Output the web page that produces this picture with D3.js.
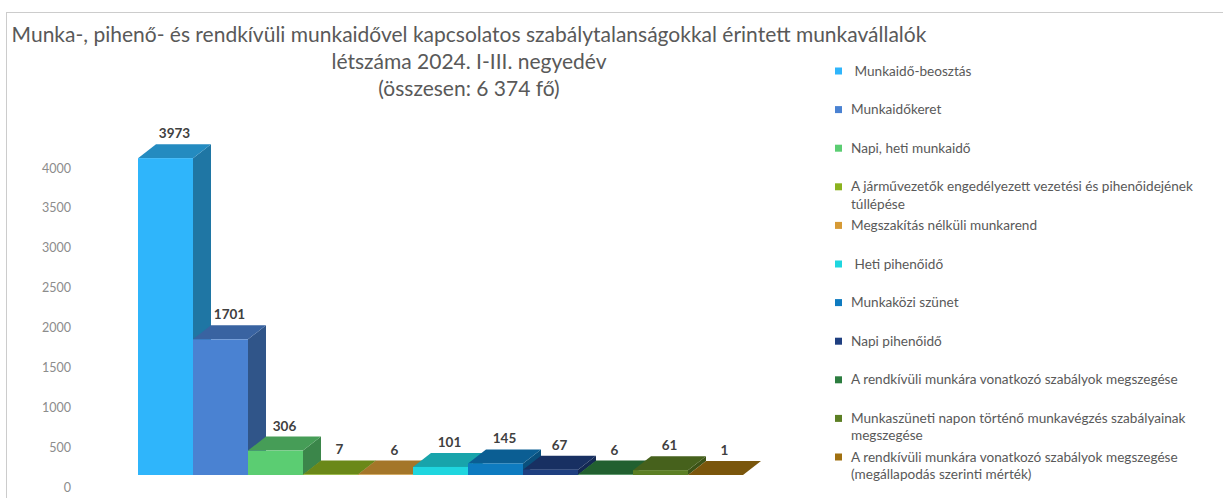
<!DOCTYPE html>
<html>
<head lang="hu">
    <meta charset="utf-8">
    <title>Munkaidő szabálytalanságok 2024</title>
    <style type="text/css">
        body {
            margin: 0;
            background-color: #fff;
        }

        svg text {
            font-family: Lato, "Noto Sans", sans-serif;
        }

        .title {
            font-size: 21px;
            fill: #595959;
        }

        .axis text {
            font-size: 12.5px;
            fill: #8c8c8c;
        }

        .value {
            font-size: 13.5px;
            font-weight: bold;
            fill: #404040;
        }

        .legend text {
            font-size: 13.6px;
            fill: #595959;
            white-space: pre;
        }
    </style>
</head>
<body>

<script src="https://d3js.org/d3.v7.min.js"></script>
<script type="text/javascript">
    //kategóriák (a jelmagyarázat szövegei)
    var categories = [
        " Munkaidő-beosztás",
        "Munkaidőkeret",
        "Napi, heti munkaidő",
        "A járművezetők engedélyezett vezetési és pihenőidejének túllépése",
        "Megszakítás nélküli munkarend",
        " Heti pihenőidő",
        "Munkaközi szünet",
        "Napi pihenőidő",
        "A rendkívüli munkára vonatkozó szabályok megszegése",
        "Munkaszüneti napon történő munkavégzés szabályainak megszegése",
        "A rendkívüli munkára vonatkozó szabályok megszegése (megállapodás szerinti mérték)"
    ];

    //létszám
    var values = [3973, 1701, 306, 7, 6, 101, 145, 67, 6, 61, 1];

    //oszlopszínek
    var colors = ["#2fb5fb", "#4a82d2", "#5bcd72", "#8bb21f", "#d69a35", "#1fd6df",
        "#0e7bc0", "#1f3f80", "#2c7d3f", "#5c7f24", "#a07010"];

    var yTicks = [0, 500, 1000, 1500, 2000, 2500, 3000, 3500, 4000];

    var titleLines = [
        "Munka-, pihenő- és rendkívüli munkaidővel kapcsolatos szabálytalanságokkal érintett munkavállalók",
        "létszáma 2024. I-III. negyedév",
        "(összesen: 6 374 fő)"
    ];

    var width = 1223, height = 498;

    var svg = d3.select("body")
        .append("svg")
        .attr("width", width)
        .attr("height", height);

    //keret
    svg.append("rect")
        .attr("x", 6.5)
        .attr("y", 12.5)
        .attr("width", width + 20)
        .attr("height", height + 20)
        .attr("fill", "#fff")
        .attr("stroke", "#cccccc")
        .attr("stroke-width", 1);

    //cím
    svg.selectAll("text.title")
        .data(titleLines)
        .enter()
        .append("text")
        .attr("class", "title")
        .attr("x", 469)
        .attr("y", function (d, i) {
            return 42 + i * 27;
        })
        .attr("text-anchor", "middle")
        .text(function (d) {
            return d;
        });

    //skálák
    var y = d3.scaleLinear().domain([0, 4000]).range([487, 168]);
    var x = d3.scaleBand().domain(d3.range(values.length)).range([138, 743]).padding(0);

    //y tengely
    var axis = svg.append("g")
        .attr("class", "axis")
        .attr("transform", "translate(71,0)")
        .call(d3.axisLeft(y).tickValues(yTicks).tickSize(0).tickPadding(0).tickFormat(d3.format("d")));
    axis.select(".domain").remove();
    axis.selectAll("text").attr("fill", null);

    //3D oszlopok
    var shift = -12;   //az oszlop elülső lapja feljebb van, mint a tengelyfeliratok
    var dx = 18, dy = 14;
    var bw = x.bandwidth();

    var bars = svg.selectAll("g.bar")
        .data(values)
        .enter()
        .append("g")
        .attr("class", "bar");

    function pts(a) {
        return a.map(function (p) {
            return p.join(",");
        }).join(" ");
    }

    bars.each(function (d, i) {
        var g = d3.select(this);
        var x0 = x(i), x1 = x0 + bw;
        var yt = y(d) + shift, yb = y(0) + shift;
        var c = d3.color(colors[i]);

        //oldallap
        g.append("polygon")
            .attr("points", pts([[x1, yt], [x1 + dx, yt - dy], [x1 + dx, yb - dy], [x1, yb]]))
            .attr("fill", c.darker(1.2));
        //fedőlap
        g.append("polygon")
            .attr("points", pts([[x0, yt], [x1, yt], [x1 + dx, yt - dy], [x0 + dx, yt - dy]]))
            .attr("fill", c.darker(0.75));
        //elülső lap
        g.append("rect")
            .attr("x", x0)
            .attr("y", yt)
            .attr("width", bw)
            .attr("height", yb - yt)
            .attr("fill", c);
    });

    //adatfeliratok
    svg.selectAll("text.value")
        .data(values)
        .enter()
        .append("text")
        .attr("class", "value")
        .attr("x", function (d, i) {
            return x(i) + bw / 2 + dx / 2;
        })
        .attr("y", function (d) {
            return y(d) + shift - dy - 6;
        })
        .attr("text-anchor", "middle")
        .text(function (d) {
            return d;
        });

    //jelmagyarázat
    var ly = d3.scaleLinear().domain([0, 10]).range([71, 457]);
    var legend = svg.selectAll("g.legend")
        .data(categories)
        .enter()
        .append("g")
        .attr("class", "legend")
        .attr("transform", function (d, i) {
            return "translate(835," + ly(i) + ")";
        });

    legend.append("rect")
        .attr("x", 0)
        .attr("y", -3.5)
        .attr("width", 7)
        .attr("height", 7)
        .attr("fill", function (d, i) {
            return colors[i];
        });

    legend.append("text")
        .attr("x", 16)
        .attr("y", 4.5)
        .each(function (d) {
            //tördelés kb. 375px szélességnél
            var t = d3.select(this);
            var words = d.split(" ");
            var line = [];
            var tspan = t.append("tspan").attr("x", 16).attr("dy", 0);
            words.forEach(function (w) {
                line.push(w);
                tspan.text(line.join(" "));
                if (tspan.node().getComputedTextLength() > 365 && line.length > 1) {
                    line.pop();
                    tspan.text(line.join(" "));
                    line = [w];
                    tspan = t.append("tspan").attr("x", 16).attr("dy", 17.5).text(w);
                }
            });
        });
</script>
</body>
</html>
